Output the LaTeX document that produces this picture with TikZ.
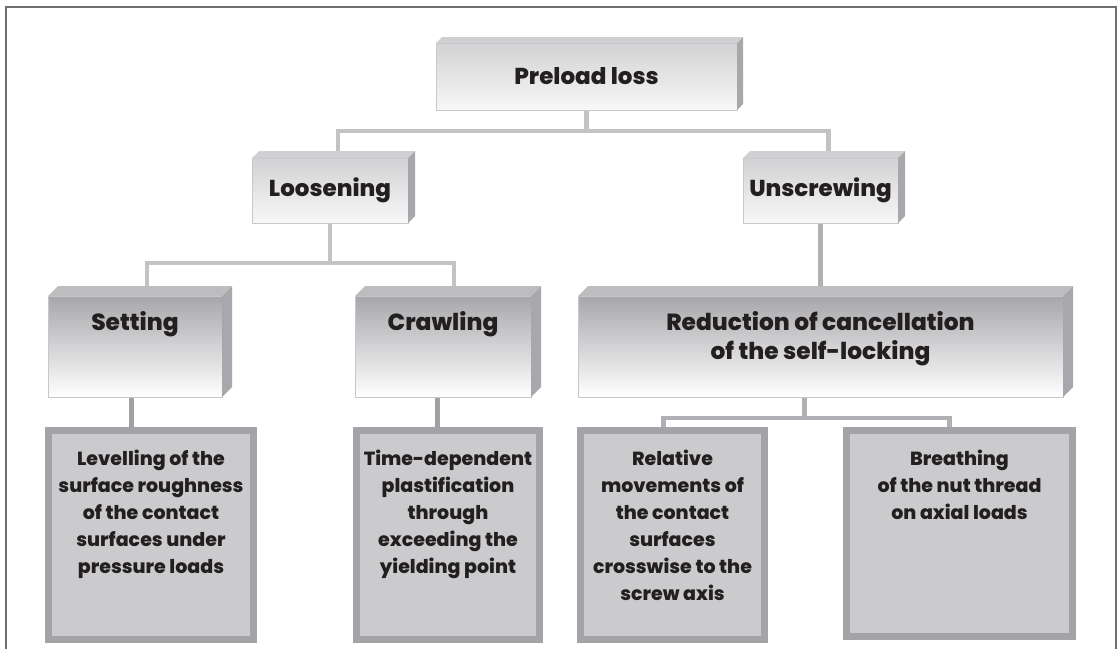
\documentclass[tikz,border=0pt]{standalone}
\usepackage{fontspec}
\setmainfont{Poppins}[BoldFont={Poppins ExtraBold}]
\usetikzlibrary{calc,backgrounds}
\definecolor{txt}{HTML}{231F20}
\definecolor{frameC}{HTML}{6E6E6E}
\definecolor{connAC}{HTML}{C3C3C6}
\definecolor{connBC}{HTML}{B0B0B4}
\definecolor{connCC}{HTML}{A0A0A4}
\definecolor{edgeC}{HTML}{C8C8CA}
\definecolor{lightTop}{HTML}{D2D2D4}
\definecolor{darkTop}{HTML}{A7A7AB}
\definecolor{topFaceL}{HTML}{D0D0D2}
\definecolor{topFaceD}{HTML}{BDBDC0}
\definecolor{sideFace}{HTML}{A8A8AC}
\definecolor{lowFill}{HTML}{CBCBCD}
\definecolor{lowEdge}{HTML}{A4A4A8}
\newcommand\boxfaces[4]{%
  \fill[#3] (#1.north west) -- ++(#2,-#2) -- ($(#1.north east)+(#2,-#2)$) -- (#1.north east) -- cycle;
  \fill[#4] (#1.north east) -- ++(#2,-#2) -- ($(#1.south east)+(#2,-#2)$) -- (#1.south east) -- cycle;
}
\begin{document}
\begin{tikzpicture}[x=1pt,y=-1pt,
  boxlight/.style={draw=edgeC, line width=0.8pt, inner sep=0pt, outer sep=0pt, anchor=north west,
    top color=lightTop, bottom color=white!97!black, text=txt, font=\fontsize{23}{27}\selectfont\bfseries},
  boxdark/.style={draw=edgeC, line width=0.8pt, inner sep=0pt, outer sep=0pt, anchor=north west,
    top color=darkTop, bottom color=white, text=txt},
  midtext/.style={text=txt, align=center, inner sep=0pt, font=\fontsize{23.3}{29}\selectfont\bfseries},
  lowbox/.style={draw=lowEdge, fill=lowFill, line width=7pt, inner sep=0pt, outer sep=0pt, anchor=north west},
  lowtext/.style={text=txt, align=center, inner sep=0pt, anchor=north, font=\fontsize{19}{27}\selectfont\bfseries},
  connA/.style={draw=connAC, line width=4.5pt},
  connB/.style={draw=connBC, line width=4.5pt},
  connC/.style={draw=connCC, line width=5pt},
  frameline/.style={draw=frameC, line width=2pt}
]
\useasboundingbox (0,0) rectangle (1119,649);
\draw[frameline] (6,649) -- (6,7) -- (1116,7) -- (1116,649);

% level 1
\node[boxlight, minimum width=301pt, minimum height=67pt] (pl) at (436,43) {Preload loss};
\boxfaces{pl}{6}{topFaceL}{sideFace}
% level 2
\node[boxlight, minimum width=156pt, minimum height=65pt] (loos) at (252,158) {Loosening};
\boxfaces{loos}{7}{topFaceL}{sideFace}
\node[boxlight, minimum width=155pt, minimum height=65pt] (unsc) at (743,158) {Unscrewing};
\boxfaces{unsc}{7}{topFaceL}{sideFace}
% level 3
\node[boxdark, minimum width=174pt, minimum height=101pt] (set) at (48,296) {};
\boxfaces{set}{10}{topFaceD}{sideFace}
\node[midtext] (sett) at ([yshift=-28pt]set.north) {Setting};
\node[boxdark, minimum width=176pt, minimum height=101pt] (craw) at (355,296) {};
\boxfaces{craw}{10}{topFaceD}{sideFace}
\node[midtext] (crawt) at ([yshift=-28pt]craw.north) {Crawling};
\node[boxdark, minimum width=485pt, minimum height=101pt] (red) at (578,296) {};
\boxfaces{red}{10}{topFaceD}{sideFace}
\node[midtext] (redt) at ([yshift=-43pt]red.north) {Reduction of cancellation\\of the self-locking};
% level 4
\node[lowbox, minimum width=205pt, minimum height=209pt] (lev) at (48.5,430.5) {};
\node[lowtext] (levt) at ([yshift=-19.5pt]lev.north) {Levelling of the\\surface roughness\\of the contact\\surfaces under\\pressure loads};
\node[lowbox, minimum width=183pt, minimum height=209pt] (time) at (356.5,430.5) {};
\node[lowtext] (timet) at ([yshift=-19.5pt]time.north) {Time-dependent\\plastification\\through\\exceeding the\\yielding point};
\node[lowbox, minimum width=184pt, minimum height=209pt] (rel) at (580.5,430.5) {};
\node[lowtext] (relt) at ([yshift=-19.5pt]rel.north) {Relative\\movements of\\the contact\\surfaces\\crosswise to the\\screw axis};
\node[lowbox, minimum width=226pt, minimum height=206pt] (bre) at (846.5,430.5) {};
\node[lowtext] (bret) at ([yshift=-19.5pt]bre.north) {Breathing\\of the nut thread\\on axial loads};

\begin{pgfonlayer}{background}
\draw[connA] (pl.south) -- ++(0,21) -| ([xshift=8pt]loos.north);
\draw[connA] (pl.south) -- ++(0,21) -| ([xshift=8pt]unsc.north);
\draw[connA] (loos.south) -- ++(0,40) -| ([xshift=12pt]set.north);
\draw[connA] (loos.south) -- ++(0,40) -| ([xshift=11pt]craw.north);
\draw[connB] (unsc.south) -- (red.north);
\draw[connC] ([xshift=-4pt]set.south) -- ($(set.south |- lev.north)+(-4,0)$);
\draw[connC] ([xshift=-6pt]craw.south) -- ($(craw.south |- time.north)+(-6,0)$);
\draw[connB] ([xshift=-16pt]red.south) -- ++(0,21) -| ([xshift=-9pt]rel.north);
\draw[connB] ([xshift=-16pt]red.south) -- ++(0,21) -| ([xshift=-10pt]bre.north);
\end{pgfonlayer}
\end{tikzpicture}
\end{document}
